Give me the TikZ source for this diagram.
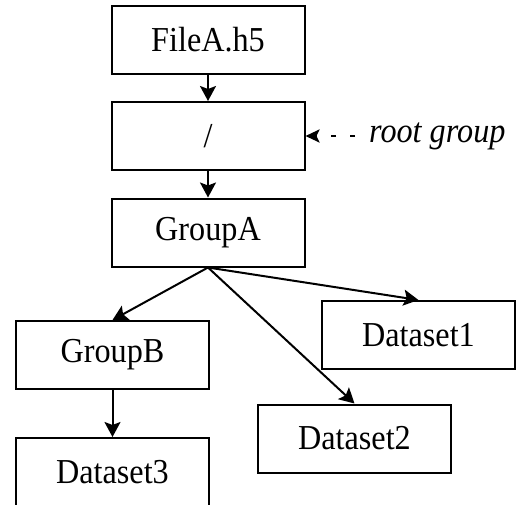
\documentclass[tikz,border=0pt]{standalone}
\usepackage{fontspec}
\setmainfont[FakeStretch=0.92]{Liberation Serif}
\usetikzlibrary{arrows.meta}
\begin{document}
\begin{tikzpicture}[x=1pt,y=-1pt,
  box/.style={draw, line width=2pt, minimum width=193pt, minimum height=68pt, inner sep=0pt, font=\fontsize{35}{38}\selectfont},
  conn/.style={line width=2pt, -{Stealth[length=15pt,width=16pt,inset=3pt]}},
  note/.style={font=\fontsize{35}{38}\selectfont\itshape, inner sep=0pt, anchor=west}]
\useasboundingbox (0,0) rectangle (517,504);
\node[box] (file) at (208,39.5) {FileA.h5};
\node[box] (root) at (208,136) {/};
\node[box] (ga) at (208,232.5) {GroupA};
\node[box] (gb) at (112.5,355) {GroupB};
\node[box] (d3) at (112.5,472) {Dataset3};
\node[box] (d1) at (418.5,335) {Dataset1};
\node[box] (d2) at (354.5,438.5) {Dataset2};
\node[note] (rg) at (369,136) {root group};
\draw[conn] (file) -- (root);
\draw[conn] (root) -- (ga);
\draw[conn] (ga.south) -- (gb.north);
\draw[conn] (ga.south) -- (d1.north);
\draw[conn] (ga.south) -- (d2.north);
\draw[conn] (gb) -- (d3);
\draw[line width=2.5pt, dash pattern=on 5pt off 14pt, -{Stealth[length=14pt,width=13pt,inset=3pt]}, shorten <=14pt] (rg.west) -- (root.east);
\end{tikzpicture}
\end{document}
